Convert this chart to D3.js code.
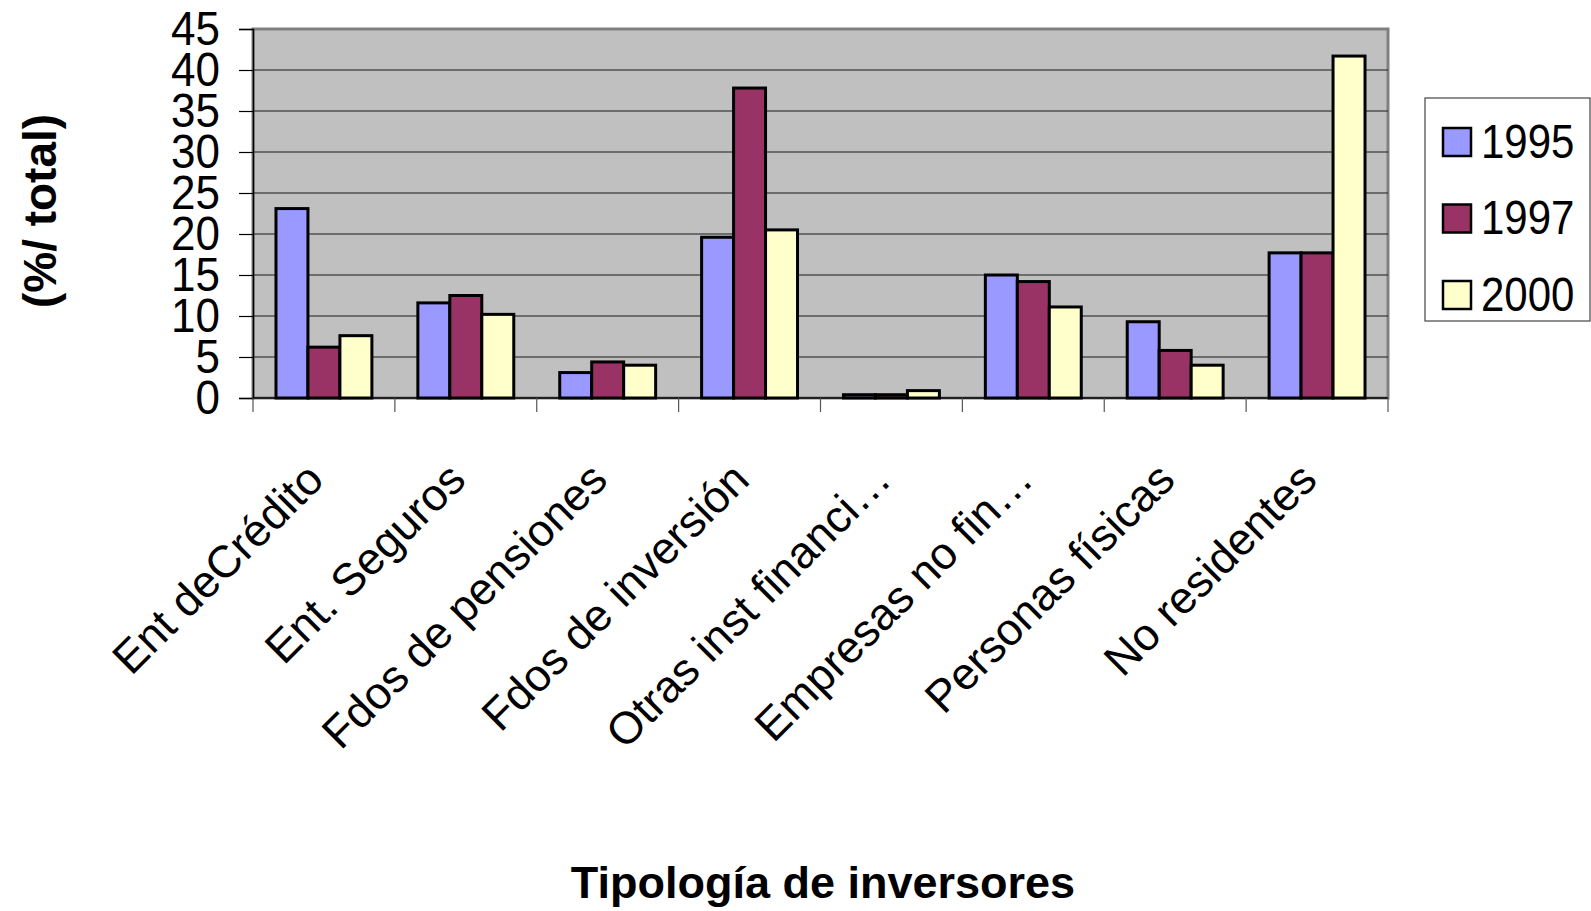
<!DOCTYPE html>
<html>
<head>
<meta charset="utf-8">
<script src="https://cdn.jsdelivr.net/npm/d3@7"></script>
<style>
  body { margin: 0; background: #fff; }
  text { font-family: "Liberation Sans", Arial, sans-serif; fill: #000; }
</style>
</head>
<body>
<svg id="svg" width="1591" height="911"></svg>
<script>
var categories = ["Ent deCrédito", "Ent. Seguros", "Fdos de pensiones", "Fdos de inversión",
                  "Otras inst financi…", "Empresas no fin…", "Personas físicas", "No residentes"];
var years = ["1995", "1997", "2000"];
var v1995 = [23.1, 11.6, 3.1, 19.6, 0.4, 15.0, 9.3, 17.7];
var v1997 = [6.2, 12.5, 4.4, 37.8, 0.4, 14.2, 5.8, 17.7];
var v2000 = [7.6, 10.2, 4.0, 20.5, 0.9, 11.1, 4.0, 41.7];
var yTicks = [0, 5, 10, 15, 20, 25, 30, 35, 40, 45];
var colors = ["#9999FF", "#993366", "#FFFFCC"];

var series = [v1995, v1997, v2000];

var svg = d3.select("#svg");

// plot box (note: "top" is taken by window.top)
var pLeft = 253, pRight = 1388, pTop = 29, pBottom = 398;

var x0 = d3.scaleBand().domain(categories).range([pLeft, pRight]);
var bw = x0.bandwidth();
var x1 = d3.scaleBand().domain(years).range([bw * 0.162, bw * 0.838]);
var y = d3.scaleLinear().domain([0, 45]).range([pBottom, pTop]);
var color = d3.scaleOrdinal().domain(years).range(colors);

// plot area
svg.append("rect")
    .attr("x", pLeft).attr("y", pTop)
    .attr("width", pRight - pLeft).attr("height", pBottom - pTop)
    .attr("fill", "#C0C0C0")
    .attr("stroke", "#808080").attr("stroke-width", 3);

// gridlines
svg.append("g").selectAll("line")
  .data(yTicks.filter(function(d){ return d > 0 && d < 45; }))
  .enter().append("line")
    .attr("x1", pLeft).attr("x2", pRight)
    .attr("y1", function(d){ return y(d); })
    .attr("y2", function(d){ return y(d); })
    .attr("stroke", "#1a1a1a").attr("stroke-width", 1.2);

// bars
var groups = svg.append("g").selectAll("g")
  .data(categories)
  .enter().append("g")
    .attr("transform", function(d){ return "translate(" + x0(d) + ",0)"; });

groups.selectAll("rect")
  .data(function(d, i){ return years.map(function(yr, j){ return { year: yr, value: series[j][i] }; }); })
  .enter().append("rect")
    .attr("x", function(d){ return x1(d.year); })
    .attr("width", x1.bandwidth())
    .attr("y", function(d){ return y(d.value); })
    .attr("height", function(d){ return y(0) - y(d.value); })
    .attr("fill", function(d){ return color(d.year); })
    .attr("stroke", "#000").attr("stroke-width", 3);

// y axis
var yAxis = svg.append("g")
    .attr("transform", "translate(" + pLeft + ",0)")
    .call(d3.axisLeft(y).tickValues(yTicks).tickSize(14).tickPadding(19));
yAxis.select(".domain").attr("stroke", "#000").attr("stroke-width", 1.5);
yAxis.selectAll(".tick line").attr("stroke", "#000").attr("stroke-width", 1.2);
yAxis.selectAll(".tick text")
    .attr("transform", "scale(1,1.08)")
    .style("font-size", "44px")
    .style("font-family", "'Liberation Sans', Arial, sans-serif")
    .attr("fill", "#000");

// x axis line + boundary ticks
svg.append("line")
    .attr("x1", pLeft).attr("x2", pRight)
    .attr("y1", pBottom).attr("y2", pBottom)
    .attr("stroke", "#000").attr("stroke-width", 1.5);

var bounds = categories.map(function(c){ return x0(c); }).concat([pRight]);
svg.append("g").selectAll("line")
  .data(bounds)
  .enter().append("line")
    .attr("x1", function(d){ return d; }).attr("x2", function(d){ return d; })
    .attr("y1", pBottom).attr("y2", pBottom + 14)
    .attr("stroke", "#555").attr("stroke-width", 1.2);

// category labels
svg.append("g").selectAll("text")
  .data(categories)
  .enter().append("text")
    .attr("transform", function(d){ return "translate(" + (x0(d) + bw / 2 + 2) + "," + (pBottom + 84) + ") rotate(-45)"; })
    .attr("text-anchor", "end")
    .style("font-size", "45px")
    .text(function(d){ return d; });

// axis titles
svg.append("text")
    .attr("transform", "translate(56,211) rotate(-90)")
    .attr("text-anchor", "middle")
    .style("font-size", "46px").style("font-weight", "bold")
    .text("(%/ total)");

svg.append("text")
    .attr("x", 823).attr("y", 898)
    .attr("text-anchor", "middle")
    .style("font-size", "45px").style("font-weight", "bold")
    .text("Tipología de inversores");

// legend
var legend = svg.append("g");
legend.append("rect")
    .attr("x", 1425).attr("y", 98).attr("width", 165).attr("height", 223)
    .attr("fill", "#fff").attr("stroke", "#444").attr("stroke-width", 1.2);

var ly = d3.scalePoint().domain(years).range([142, 295]);
var items = legend.selectAll("g.item")
  .data(years)
  .enter().append("g").attr("class", "item")
    .attr("transform", function(d){ return "translate(0," + ly(d) + ")"; });
items.append("rect")
    .attr("x", 1443).attr("y", -14).attr("width", 28).attr("height", 28)
    .attr("fill", function(d){ return color(d); })
    .attr("stroke", "#000").attr("stroke-width", 2.5);
items.append("text")
    .attr("x", 1481).attr("y", 0).attr("dy", "0.36em")
    .attr("transform", "translate(0,-2) scale(1,1.16)")
    .style("font-size", "42px")
    .text(function(d){ return d; });
</script>
</body>
</html>
